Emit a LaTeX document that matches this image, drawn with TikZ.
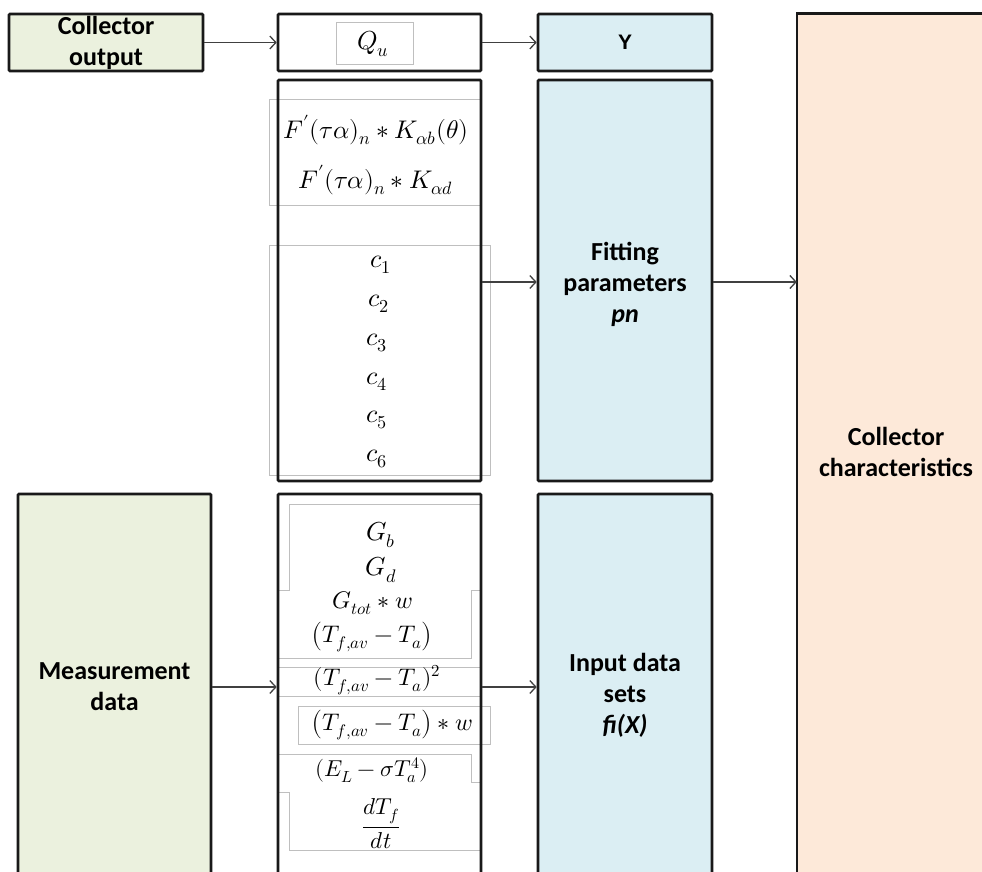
\documentclass[tikz,border=0pt]{standalone}
\usepackage{fontspec}
\usepackage{unicode-math}
\setmainfont{Carlito}
\setmathfont{Latin Modern Math}
\newfontfamily\arialf{Liberation Sans}
\usetikzlibrary{arrows.meta}
\definecolor{grn}{HTML}{EBF1DE}
\definecolor{blu}{HTML}{DBEEF3}
\definecolor{org}{HTML}{FDE9D9}
\tikzset{
  blk/.style={draw=black!90, line width=2.6pt, rounded corners=1pt, inner sep=0pt, align=center,
    font=\bfseries\fontsize{26}{31}\selectfont},
  edge/.style={draw=black!90, line width=2.6pt},
  lbl/.style={inner sep=0pt, align=center, font=\bfseries\fontsize{26}{31}\selectfont},
  gline/.style={draw=black!25, line width=1pt},
  arr/.style={draw=black!75, line width=1.3pt, -{Straight Barb[length=6pt,width=13pt]}},
  mth/.style={inner sep=0pt, font=\fontsize{24}{28}\selectfont},
  mbig/.style={inner sep=0pt, font=\fontsize{26}{30}\selectfont},
}
\begin{document}
\begin{tikzpicture}[x=1pt,y=-1pt]
\useasboundingbox (0,0) rectangle (982,872);
\clip (0,0) rectangle (982,872);
\fill[white] (0,0) rectangle (982,872);
% gray text-box frames
\draw[gline] (336,23) rectangle (413,65);
\draw[gline] (269,100) rectangle (481,205);
\draw[gline] (269,245) rectangle (490,475);
\draw[gline] (481,504) -- (289,504) -- (289,590) -- (279,590);
\draw[gline] (481,590) -- (471,590) -- (471,658) -- (279,658);
\draw[gline] (279,667) -- (481,667);
\draw[gline] (279,696) -- (481,696);
\draw[gline] (298,706) rectangle (490,744);
\draw[gline] (279,754) -- (471,754) -- (471,782) -- (481,782);
\draw[gline] (279,792) -- (289,792) -- (289,850) -- (481,850);
% main boxes
\node[blk, fill=grn, minimum width=194pt, minimum height=57pt] (co) at (106,42.5) {Collector\\output};
\node[blk, minimum width=203pt, minimum height=57pt] (qu) at (379.5,42.5) {};
\node[blk, fill=blu, minimum width=174pt, minimum height=57pt, font=\arialf\bfseries\fontsize{21}{25}\selectfont] (y) at (625,42.5) {Y};
\node[fill=org, inner sep=0pt, minimum width=240pt, minimum height=876pt] (ch) at (917,452) {};
\draw[edge] (ch.north east) -- (ch.north west) -- (ch.south west);
\node[lbl] (chl) at (896,452) {Collector\\characteristics};
\node[blk, minimum width=203pt, minimum height=401pt] (mt) at (379.5,280.5) {};
\node[blk, fill=blu, minimum width=174pt, minimum height=401pt] (fit) at (625,280.5) {};
\node[lbl] (fitl) at (625,284) {Fitting\\parameters\\\textit{pn}};
\node[blk, fill=grn, minimum width=193pt, minimum height=386pt] (meas) at (114.5,687) {Measurement\\data};
\node[blk, minimum width=203pt, minimum height=396pt] (mb) at (379.5,692) {};
\node[blk, fill=blu, minimum width=174pt, minimum height=402pt] (inp) at (625,695) {Input data\\sets\\\textit{fi(X)}};
% math contents
\node[mbig] (qtxt) at (373,44) {$Q_u$};
\node[mth, font=\fontsize{25.5}{30}\selectfont] (f1) at (376,130) {$F'(\tau\alpha)_n \ast K_{\alpha b}(\theta)$};
\node[mth, font=\fontsize{25.5}{30}\selectfont] (f2) at (375.5,180) {$F'(\tau\alpha)_n \ast K_{\alpha d}$};
\node[mbig] (c1) at (381,265) {$c_1$};
\node[mbig] (c2) at (379,304) {$c_2$};
\node[mbig] (c3) at (377,343) {$c_3$};
\node[mbig] (c4) at (377,382) {$c_4$};
\node[mbig] (c5) at (377,420) {$c_5$};
\node[mbig] (c6) at (377,459) {$c_6$};
\node[mbig] (gb) at (381,535) {$G_b$};
\node[mbig] (gd) at (381,570) {$G_d$};
\node[mth] (gt) at (372.5,603) {$G_{tot}\ast w$};
\node[mth] (t1) at (372,637) {$\left(T_{f,av}-T_a\right)$};
\node[mth] (t2) at (377,680) {$(T_{f,av}-T_a)^2$};
\node[mth] (t3) at (392,725) {$\left(T_{f,av}-T_a\right)\ast w$};
\node[mth, font=\fontsize{23}{27}\selectfont] (el) at (372,770) {$(E_L-\sigma T_a^4)$};
\node[mth, font=\fontsize{23}{27}\selectfont] (dt) at (381,824) {$\dfrac{dT_f}{dt}$};
% connectors
\draw[arr] (co.east) -- (qu.west);
\draw[arr] (qu.east) -- (y.west);
\draw[arr] (mt.east |- 0,282) coordinate (a1) -- (fit.west |- a1);
\draw[arr] (fit.east |- a1) -- (ch.west |- a1);
\draw[arr] (meas.east) -- (meas.east -| mb.west);
\draw[arr] (meas.east -| mb.east) -- (meas.east -| inp.west);
\end{tikzpicture}
\end{document}
